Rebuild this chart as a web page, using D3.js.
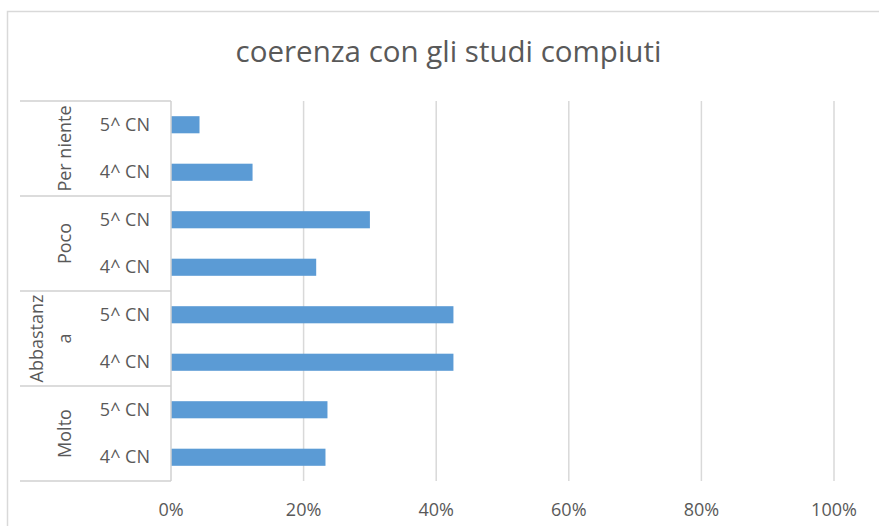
<!DOCTYPE html>
<html>
<head>
<meta charset="utf-8">
<script src="https://cdn.jsdelivr.net/npm/d3@7"></script>
<style>
    body { margin: 0; background: #fff; }
    svg text { font-family: 'Open Sans', 'Noto Sans', sans-serif; fill: #595959; }
</style>
</head>
<body>
<svg id="chart" width="879" height="526"></svg>
<script>
'use strict';

// data, top to bottom as in the picture
const groups = ['Per niente', 'Poco', 'Abbastanza', 'Molto'];
const groupLines = [['Per niente'], ['Poco'], ['Abbastanz', 'a'], ['Molto']];   // wrapped like the original
const classes = ['5^ CN', '4^ CN'];
const values5 = [4.3, 30.0, 42.6, 23.6];
const values4 = [12.3, 21.9, 42.6, 23.3];
const ticks = [0, 20, 40, 60, 80, 100];
const title = 'coerenza con gli studi compiuti';

const rows = [];
groups.forEach((g, i) => {
    rows.push({ key: g + '|' + classes[0], group: g, cls: classes[0], value: values5[i] });
    rows.push({ key: g + '|' + classes[1], group: g, cls: classes[1], value: values4[i] });
});

const svg = d3.select('#chart');

// frame, cut off at right and bottom like the screenshot
svg.append('rect')
    .attr('x', 7.5).attr('y', 11.5)
    .attr('width', 920).attr('height', 560)
    .attr('fill', 'white')
    .attr('stroke', '#d9d9d9')
    .attr('stroke-width', 1.5);

const plotL = 171, plotR = 834, plotT = 101, plotB = 481;

const x = d3.scaleLinear().domain([0, 100]).range([plotL, plotR]);
const y = d3.scaleBand()
    .domain(rows.map((d) => d.key))
    .range([plotT, plotB])
    .paddingInner(0.64)
    .paddingOuter(0.32);
const yg = d3.scaleBand().domain(groups).range([plotT, plotB]);

// title
svg.append('text')
    .attr('x', 448.5).attr('y', 62)
    .attr('text-anchor', 'middle')
    .attr('font-size', 29.5)
    .text(title);

// gridlines
svg.append('g').selectAll('line').data(ticks.filter((t) => t > 0)).enter().append('line')
    .attr('x1', (d) => x(d)).attr('x2', (d) => x(d))
    .attr('y1', plotT).attr('y2', plotB)
    .attr('stroke', '#d9d9d9')
    .attr('stroke-width', 1.5);

// tick labels
svg.append('g').selectAll('text').data(ticks).enter().append('text')
    .attr('x', (d) => x(d))
    .attr('y', 516)
    .attr('text-anchor', 'middle')
    .attr('font-size', 18)
    .text((d) => d + '%');

// bars
svg.append('g').selectAll('rect').data(rows).enter().append('rect')
    .attr('x', x(0))
    .attr('y', (d) => y(d.key))
    .attr('width', (d) => x(d.value) - x(0))
    .attr('height', y.bandwidth())
    .attr('fill', '#5b9bd5');

// category axis line and group separators
svg.append('line')
    .attr('x1', plotL).attr('x2', plotL)
    .attr('y1', plotT).attr('y2', plotB)
    .attr('stroke', '#d0d0d0')
    .attr('stroke-width', 1.5);

const seps = groups.map((g) => yg(g)).concat([plotB]);
svg.append('g').selectAll('line').data(seps).enter().append('line')
    .attr('x1', 20).attr('x2', plotL)
    .attr('y1', (d) => d).attr('y2', (d) => d)
    .attr('stroke', '#d0d0d0')
    .attr('stroke-width', 1.5);

// sub category labels
svg.append('g').selectAll('text').data(rows).enter().append('text')
    .attr('x', 150)
    .attr('y', (d) => y(d.key) + y.bandwidth() / 2 + 6)
    .attr('text-anchor', 'end')
    .attr('font-size', 18)
    .text((d) => d.cls);

// group labels, rotated
groups.forEach((g, i) => {
    const lines = groupLines[i];
    const cy = yg(g) + yg.bandwidth() / 2;
    lines.forEach((ln, j) => {
        const bx = 71 - (lines.length - 1 - j) * 28;
        svg.append('text')
            .attr('transform', 'translate(' + bx + ',' + cy + ') rotate(-90)')
            .attr('text-anchor', 'middle')
            .attr('font-size', 18)
            .text(ln);
    });
});
</script>
</body>
</html>
